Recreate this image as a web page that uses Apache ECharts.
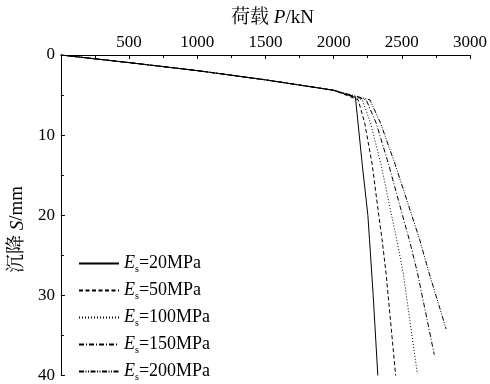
<!DOCTYPE html>
<html>
<head>
<meta charset="utf-8">
<script src="https://cdn.jsdelivr.net/npm/echarts@6/dist/echarts.min.js"></script>
<style>
  html, body { margin: 0; padding: 0; background: #fff; }
  #chart { width: 490px; height: 384px; }
</style>
</head>
<body>
<div id="chart"></div>
<script>
// shared linear part of all curves (load kN, settlement mm)
const sharedLoad = [0, 500, 1000, 1500, 2000];
const sharedSettle = [0, 0.95, 1.95, 3.1, 4.4];

const modulus = ["20", "50", "100", "150", "200"];

// branch after the knee, one per Es
const load20 = [2160, 2179, 2210, 2251, 2263, 2290, 2324];
const settle20 = [5.3, 8.5, 13.7, 20, 23, 30, 40];
const load50 = [2180, 2228, 2283, 2331, 2355, 2384, 2455];
const settle50 = [5.6, 8.5, 13.7, 20, 23, 27.2, 40];
const load100 = [2210, 2271, 2348, 2425, 2462, 2510, 2614];
const settle100 = [5.6, 8.5, 13.7, 20, 23, 27.2, 39.8];
const load150 = [2239, 2312, 2404, 2505, 2554, 2615, 2738];
const settle150 = [5.6, 8.5, 13.7, 20, 23, 27.2, 37.4];
const load200 = [2266, 2344, 2452, 2573, 2630, 2700, 2825];
const settle200 = [5.6, 8.5, 13.7, 20, 23, 27.2, 34.2];

const xTicks = [500, 1000, 1500, 2000, 2500, 3000];
const yTicks = [0, 10, 20, 30, 40];

const branches = [
  [load20, settle20],
  [load50, settle50],
  [load100, settle100],
  [load150, settle150],
  [load200, settle200],
];
const dashes = ["solid", [4, 2.5], [1, 2], [5, 2, 1, 2], [5, 1.5, 1, 1.5, 1, 1.5]];

const serif = "'Liberation Serif', 'Times New Roman', 'Noto Serif CJK SC', 'Noto Sans CJK SC', serif";
const black = "#000";

function pairs(xs, ys) {
  return xs.map((x, i) => [x, ys[i]]);
}

const series = branches.map(([ld, st], i) => ({
  name: "Es=" + modulus[i] + "MPa",
  type: "line",
  symbol: "none",
  data: pairs(sharedLoad, sharedSettle).concat(pairs(ld, st)),
  lineStyle: { color: black, width: 1, type: dashes[i] },
  itemStyle: { color: black },
}));

const chart = echarts.init(document.getElementById("chart"), null, { renderer: "canvas" });
chart.setOption({
  animation: false,
  backgroundColor: "#fff",
  grid: { left: 59, right: 18, top: 55, bottom: 7 },
  legend: {
    orient: "vertical",
    left: 78,
    top: 253,
    height: 131,
    padding: 0,
    itemWidth: 40,
    itemHeight: 14,
    itemGap: 6,
    itemStyle: { opacity: 0, borderWidth: 0 },
    formatter: (name) => "{i|E}{s|s}" + name.slice(2),
    textStyle: {
      fontFamily: serif,
      fontSize: 18,
      lineHeight: 20,
      color: black,
      rich: {
        i: { fontFamily: serif, fontSize: 18, lineHeight: 20, fontStyle: "italic", color: black },
        s: { fontFamily: serif, fontSize: 10, lineHeight: 10, padding: [11, 0, 0, 0], color: black },
      },
    },
    data: series.map((s) => s.name),
  },
  xAxis: {
    type: "value",
    position: "top",
    min: 0,
    max: 3000,
    interval: 500,
    name: "荷载 {i|P}/kN",
    nameLocation: "middle",
    nameGap: 27,
    nameTextStyle: {
      fontFamily: serif,
      fontSize: 19,
      color: black,
      padding: [0, 0, 0, 14],
      rich: { i: { fontFamily: serif, fontSize: 19, fontStyle: "italic", color: black } },
    },
    axisLine: { show: true, lineStyle: { color: black, width: 1 } },
    axisTick: { show: true, inside: true, length: 4, lineStyle: { color: black } },
    minorTick: { show: true, splitNumber: 2, length: 3, lineStyle: { color: black } },
    splitLine: { show: false },
    axisLabel: {
      margin: 4,
      fontFamily: serif,
      fontSize: 17,
      color: black,
      formatter: (v) => (xTicks.includes(v) ? String(v) : ""),
    },
  },
  yAxis: {
    type: "value",
    inverse: true,
    min: 0,
    max: 40,
    interval: 10,
    name: "沉降 {i|S}/mm{p|xxx}",
    nameLocation: "middle",
    nameRotate: 90,
    nameGap: 31,
    nameTextStyle: {
      fontFamily: serif,
      fontSize: 19,
      color: black,
      rich: {
        i: { fontFamily: serif, fontSize: 19, fontStyle: "italic", color: black },
        p: { fontFamily: serif, fontSize: 19, color: "rgba(0,0,0,0)" },
      },
    },
    axisLine: { show: true, lineStyle: { color: black, width: 1 } },
    axisTick: { show: true, inside: true, length: 4, lineStyle: { color: black } },
    minorTick: { show: true, splitNumber: 2, length: 3, lineStyle: { color: black } },
    splitLine: { show: false },
    axisLabel: {
      margin: 6,
      fontFamily: serif,
      fontSize: 17,
      color: black,
      formatter: (v) => (yTicks.includes(v) ? String(v) : ""),
    },
  },
  series,
});
</script>
</body>
</html>
